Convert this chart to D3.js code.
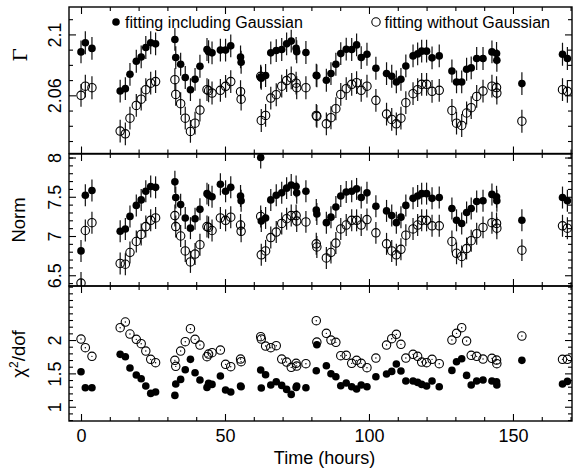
<!DOCTYPE html>
<html><head><meta charset="utf-8">
<script src="https://cdn.jsdelivr.net/npm/d3@7"></script>
<style>
body{margin:0;background:#fff}
text{font-family:"Liberation Sans",Arial,Helvetica,sans-serif;fill:#000}
</style>
</head><body>
<svg id="chart" width="577" height="470"></svg>
<script>
// ---------------- data ----------------
const time = [0,1.5,3.8,13.6,15.4,17.0,19.2,20.9,22.5,24.2,25.9,
  32.6,32.9,34.6,36.2,38.0,39.6,41.3,43.75,44.3,45.5,48.4,50.2,52.0,55.4,55.6,
  62.4,62.6,64.1,65.9,67.8,69.7,71.4,73.0,74.7,74.9,78.1,
  81.7,81.9,85.2,86.8,88.5,90.2,92.1,94.0,95.7,97.3,99.3,
  102.4,106.1,107.9,109.5,111.1,112.8,115.3,116.9,118.3,120.0,121.9,124.4,
  128.8,130.4,132.2,133.9,135.5,137.4,139.6,142.7,144.3,144.4,
  153.1,167.2,168.9];

const gammaWith = [2.0885,2.0945,2.0908,2.0628,2.0644,2.0738,2.0824,2.0852,2.0914,2.0945,2.0938,
  2.0967,2.0848,2.0804,2.0717,2.0637,2.0705,2.0791,2.0901,2.0886,2.0879,2.0897,2.0897,2.0925,2.0852,2.0817,
  2.0720,2.0712,2.0730,2.0879,2.0894,2.0901,2.0938,2.0956,2.0908,2.0886,2.0881,
  2.0732,2.0728,2.0699,2.0743,2.0804,2.0874,2.0903,2.0901,2.0931,2.0848,2.0870,
  2.0778,2.0743,2.0725,2.0688,2.0705,2.0793,2.0859,2.0872,2.0890,2.0890,2.0846,2.0859,
  2.0760,2.0688,2.0688,2.0771,2.0780,2.0842,2.0842,2.0885,2.0875,2.0830,
  2.0677,2.0870,2.0842];
const gammaWithout = [2.0600,2.0660,2.0650,2.0365,2.0347,2.0450,2.0534,2.0575,2.0637,2.0680,2.0690,
  2.0703,2.0606,2.0545,2.0450,2.0363,2.0417,2.0503,2.0637,2.0630,2.0615,2.0633,2.0659,2.0690,2.0624,2.0575,
  2.0725,2.0435,2.0468,2.0582,2.0604,2.0660,2.0697,2.0715,2.0680,2.0650,2.0650,
  2.0468,2.0462,2.0413,2.0453,2.0512,2.0606,2.0644,2.0672,2.0683,2.0633,2.0660,
  2.0567,2.0477,2.0442,2.0413,2.0450,2.0552,2.0611,2.0637,2.0672,2.0672,2.0626,2.0633,
  2.0501,2.0417,2.0402,2.0484,2.0519,2.0593,2.0628,2.0660,2.0651,2.0615,
  2.0430,2.0637,2.0626];

const normWith = [6.81,7.52,7.58,7.06,7.09,7.25,7.39,7.46,7.57,7.63,7.62,
  7.69,7.49,7.40,7.23,7.10,7.22,7.34,7.54,7.52,7.50,7.66,7.57,7.62,7.51,7.45,
  8.00,7.19,7.23,7.46,7.52,7.55,7.61,7.65,7.63,7.55,7.57,
  7.33,7.28,7.17,7.24,7.37,7.51,7.56,7.57,7.60,7.49,7.55,
  7.38,7.32,7.26,7.17,7.24,7.39,7.48,7.51,7.54,7.54,7.48,7.49,
  7.35,7.20,7.16,7.30,7.35,7.44,7.45,7.53,7.50,7.45,
  7.20,7.49,7.45];
const normWithout = [6.40,7.07,7.17,6.65,6.64,6.79,6.93,7.02,7.12,7.20,7.23,
  7.26,7.12,7.00,6.81,6.67,6.77,6.89,7.12,7.11,7.07,7.23,7.20,7.24,7.14,7.06,
  7.25,6.76,6.81,6.98,7.05,7.16,7.22,7.26,7.26,7.19,7.18,
  6.90,6.86,6.72,6.79,6.91,7.09,7.14,7.20,7.20,7.14,7.21,
  7.04,6.90,6.81,6.76,6.83,7.01,7.09,7.14,7.20,7.20,7.13,7.13,
  6.93,6.78,6.74,6.84,6.94,7.03,7.11,7.17,7.16,7.10,
  6.82,7.13,7.10];

const chi2With = [1.525,1.285,1.285,1.785,1.75,1.58,1.475,1.42,1.31,1.20,1.22,
  1.17,1.34,1.41,1.555,1.71,1.51,1.40,1.29,1.35,1.335,1.46,1.25,1.22,1.31,1.30,
  1.55,1.28,1.48,1.325,1.375,1.32,1.26,1.185,1.29,1.31,1.285,
  1.54,1.93,1.615,1.495,1.45,1.315,1.355,1.30,1.265,1.325,1.30,
  1.45,1.49,1.53,1.64,1.535,1.385,1.385,1.365,1.335,1.31,1.385,1.30,
  1.545,1.675,1.72,1.47,1.325,1.385,1.40,1.385,1.375,1.325,
  1.695,1.34,1.38];
const chi2Without = [2.015,1.885,1.755,2.185,2.27,2.09,2.01,1.945,1.835,1.71,1.66,
  1.695,1.605,1.835,1.975,2.17,2.01,1.925,1.75,1.79,1.81,1.85,1.635,1.60,1.715,1.675,
  2.05,2.015,1.91,1.885,1.915,1.715,1.67,1.59,1.65,1.61,1.645,
  2.29,1.97,2.10,2.00,1.965,1.765,1.77,1.65,1.695,1.65,1.585,
  1.73,1.925,2.02,2.085,1.935,1.73,1.785,1.755,1.67,1.66,1.71,1.645,
  2.00,2.10,2.185,1.985,1.77,1.755,1.715,1.725,1.70,1.645,
  2.06,1.71,1.71];

const gammaErr = 0.0075;
const normErr = 0.14;

const xMajorTicks = [0,50,100,150];
const xMinorTicks = [10,20,30,40,60,70,80,90,110,120,130,140,160,170];
const gammaMajorTicks = [2.06,2.1];
const gammaMinorTicks = [2.03,2.04,2.05,2.07,2.08,2.09,2.11];
const normMajorTicks = [6.5,7,7.5,8];
const normMinorTicks = [6.4,6.6,6.7,6.8,6.9,7.1,7.2,7.3,7.4,7.6,7.7,7.8,7.9,8.0];
const chiMajorTicks = [1,1.5,2];
const chiMinorTicks = [0.8,0.9,1.1,1.2,1.3,1.4,1.6,1.7,1.8,1.9,2.1,2.2,2.3,2.4,2.5,2.6,2.7,2.8];

const legendLabels = ["fitting including Gaussian","fitting without Gaussian"];

// ---------------- layout ----------------
const svg = d3.select("#chart");
const L = 69, R = 572;
const x = d3.scaleLinear().domain([-4.17,170.5]).range([L,R]);

const panels = [
  {top:7, bottom:153.5, domain:[2.0218,2.118], major:gammaMajorTicks, minor:gammaMinorTicks,
   fmt:d=>String(d), with:gammaWith, without:gammaWithout, err:gammaErr, title:"Γ", titleY:55},
  {top:154, bottom:286, domain:[6.363,8.045], major:normMajorTicks, minor:normMinorTicks,
   fmt:d=>String(d), with:normWith, without:normWithout, err:normErr, title:"Norm", titleY:220},
  {top:286, bottom:421, domain:[0.786,2.81], major:chiMajorTicks, minor:chiMinorTicks,
   fmt:d=>String(d), with:chi2With, without:chi2Without, err:null, title:"chi", titleY:354}
];

const MAJ = 7, MIN = 4;

panels.forEach((p,pi)=>{
  const y = d3.scaleLinear().domain(p.domain).range([p.bottom,p.top]);
  const g = svg.append("g");

  const cid = "clip"+pi;
  svg.append("clipPath").attr("id",cid).append("rect")
    .attr("x",L).attr("y",p.top).attr("width",R-L).attr("height",p.bottom-p.top);

  // left axis
  const la = g.append("g").attr("transform",`translate(${L},0)`)
    .call(d3.axisLeft(y).tickValues(p.major).tickSizeInner(-MAJ).tickSizeOuter(0).tickFormat(p.fmt));
  la.select(".domain").remove();
  la.selectAll("text").attr("x",null).attr("dy",null)
    .attr("transform","translate(-8,0) rotate(-90)")
    .attr("text-anchor","middle").style("font-size","18px").style("font-family","'Liberation Sans',Arial,sans-serif");
  const lm = g.append("g").attr("transform",`translate(${L},0)`)
    .call(d3.axisLeft(y).tickValues(p.minor).tickSizeInner(-MIN).tickSizeOuter(0).tickFormat(""));
  lm.select(".domain").remove();
  // right axis
  [[p.major,MAJ],[p.minor,MIN]].forEach(([tv,s])=>{
    const ra = g.append("g").attr("transform",`translate(${R},0)`)
      .call(d3.axisRight(y).tickValues(tv).tickSizeInner(-s).tickSizeOuter(0).tickFormat(""));
    ra.select(".domain").remove();
  });
  // top & bottom
  [[xMajorTicks,MAJ],[xMinorTicks,MIN]].forEach(([tv,s])=>{
    const ta = g.append("g").attr("transform",`translate(0,${p.top})`)
      .call(d3.axisTop(x).tickValues(tv).tickSizeInner(-s).tickSizeOuter(0).tickFormat(""));
    ta.select(".domain").remove();
    const ba = g.append("g").attr("transform",`translate(0,${p.bottom})`)
      .call(d3.axisBottom(x).tickValues(tv).tickSizeInner(-s).tickSizeOuter(0).tickFormat(""));
    ba.select(".domain").remove();
  });
  g.selectAll(".tick line").attr("stroke","#000").attr("stroke-width",1.1);

  // frame
  g.append("rect").attr("x",L).attr("y",p.top).attr("width",R-L).attr("height",p.bottom-p.top)
    .attr("fill","none").attr("stroke","#000").attr("stroke-width",1.4);

  const pg = g.append("g").attr("clip-path",`url(#${cid})`);

  // error bars
  if(p.err!==null){
    [p.with,p.without].forEach(arr=>{
      pg.append("g").selectAll("line").data(arr).join("line")
        .attr("x1",(d,i)=>x(time[i])).attr("x2",(d,i)=>x(time[i]))
        .attr("y1",d=>y(d-p.err)).attr("y2",d=>y(d+p.err))
        .attr("stroke","#111").attr("stroke-width",1.2);
    });
  }
  // open circles
  pg.append("g").selectAll("circle").data(p.without).join("circle")
    .attr("cx",(d,i)=>x(time[i])).attr("cy",d=>y(d)).attr("r",4.2)
    .attr("fill","none").attr("stroke","#000").attr("stroke-width",1.1);
  if(p.err===null){
    pg.append("g").selectAll("circle").data(p.without).join("circle")
      .attr("cx",(d,i)=>x(time[i])).attr("cy",d=>y(d)).attr("r",0.7).attr("fill","#000");
  }
  // filled circles
  pg.append("g").selectAll("circle").data(p.with).join("circle")
    .attr("cx",(d,i)=>x(time[i])).attr("cy",d=>y(d)).attr("r",3.8).attr("fill","#000");

  // axis title
  const t = svg.append("text").attr("transform",`translate(${pi===0?27:25},${p.titleY}) rotate(-90)`)
    .attr("text-anchor","middle").style("font-size","18.5px");
  if(p.title==="chi"){
    t.append("tspan").text("χ");
    t.append("tspan").attr("dy",-7).style("font-size","12px").text("2");
    t.append("tspan").attr("dy",7).text("/dof");
  } else {
    t.text(p.title);
    if(pi===0) t.style("font-family","'DejaVu Serif',serif").style("font-size","19px");
  }

  // x tick labels on the bottom panel
  if(pi===2){
    const xa = svg.append("g").attr("transform",`translate(0,${p.bottom})`)
      .call(d3.axisBottom(x).tickValues(xMajorTicks).tickSize(0).tickPadding(0));
    xa.select(".domain").remove();
    xa.selectAll("text").attr("dy",null).attr("y",21).style("font-size","18px")
      .style("font-family","'Liberation Sans',Arial,sans-serif");
  }
});

svg.append("text").attr("x",(L+R)/2+4).attr("y",463.5).attr("text-anchor","middle")
  .style("font-size","18px").text("Time (hours)");

// legend
svg.append("circle").attr("cx",116).attr("cy",22).attr("r",3.8).attr("fill","#000");
svg.append("text").attr("x",125).attr("y",27.5).style("font-size","16px").text(legendLabels[0]);
svg.append("circle").attr("cx",376).attr("cy",22).attr("r",4.2).attr("fill","none").attr("stroke","#000").attr("stroke-width",1.1);
svg.append("text").attr("x",384.5).attr("y",27.5).style("font-size","16px").text(legendLabels[1]);
</script>
</body></html>
